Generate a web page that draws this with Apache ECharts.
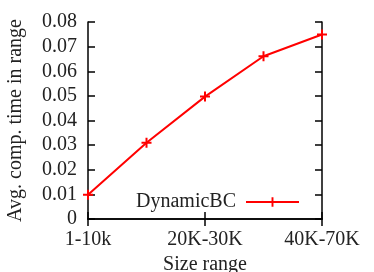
<!DOCTYPE html>
<html><head><meta charset="utf-8">
<script src="https://cdn.jsdelivr.net/npm/echarts@6/dist/echarts.min.js"></script>
<style>html,body{margin:0;padding:0;background:#fff}#c{width:374px;height:272px}</style>
</head><body><div id="c"></div>
<script>
var categories = ['1-10k', '10K-20K', '20K-30K', '30K-40K', '40K-70K'];
var shownLabels = ['1-10k', '20K-30K', '40K-70K'];
var dynamicBC = [0.0098, 0.031, 0.0497, 0.0661, 0.0749];
var seriesName = 'DynamicBC';
var xTitle = 'Size range';
var yTitle = 'Avg. comp. time in range';

var FONT = 'Liberation Serif';
var FS = 20;
var plus = 'path://M4,0 L6,0 L6,4 L10,4 L10,6 L6,6 L6,10 L4,10 L4,6 L0,6 L0,4 L4,4 Z';
var axisLine = {show: true, lineStyle: {color: '#000', width: 1.5}};
var chart = echarts.init(document.getElementById('c'));
chart.setOption({
  animation: false,
  grid: {left: 88, right: 52, top: 22, bottom: 53, containLabel: false, outerBoundsMode: 'none'},
  legend: {
    data: [seriesName],
    right: 74, top: 192, align: 'right', padding: 0,
    itemWidth: 53, itemHeight: 12, itemGap: 10,
    textStyle: {fontFamily: FONT, fontSize: FS, color: '#222', padding: [0, 5, 0, 0]}
  },
  xAxis: [{
    type: 'category', data: categories, boundaryGap: false,
    axisLine: axisLine,
    axisTick: {show: true, inside: true, length: 7, interval: 1, lineStyle: {color: '#000', width: 1.5}},
    axisLabel: {interval: 1, fontFamily: FONT, fontSize: FS, color: '#222', margin: 11,
      formatter: function (v) { return shownLabels.indexOf(v) >= 0 ? v : ''; }},
    name: xTitle, nameLocation: 'middle', nameGap: 27,
    nameTextStyle: {fontFamily: FONT, fontSize: FS, color: '#222'}
  }, {
    type: 'category', data: categories, boundaryGap: false, position: 'top',
    axisLine: axisLine,
    axisTick: {show: true, inside: true, length: 7, interval: 1, lineStyle: {color: '#000', width: 1.5}},
    axisLabel: {show: false}
  }],
  yAxis: [{
    type: 'value', min: 0, max: 0.08, interval: 0.01,
    axisLine: axisLine, splitLine: {show: false},
    axisTick: {show: true, inside: true, length: 7, lineStyle: {color: '#000', width: 1.5}},
    axisLabel: {fontFamily: FONT, fontSize: FS, color: '#222', margin: 11,
      formatter: function (v) { return v === 0 ? '0' : v.toFixed(2); }},
    name: yTitle, nameLocation: 'middle', nameGap: 62, nameRotate: 90,
    nameTextStyle: {fontFamily: FONT, fontSize: FS, color: '#222'}
  }, {
    type: 'value', min: 0, max: 0.08, interval: 0.01, position: 'right',
    axisLine: axisLine, splitLine: {show: false},
    axisTick: {show: true, inside: true, length: 7, lineStyle: {color: '#000', width: 1.5}},
    axisLabel: {show: false}
  }],
  series: [{
    name: seriesName, type: 'line', data: dynamicBC,
    symbol: plus, symbolSize: 10, showSymbol: true,
    lineStyle: {color: '#ff0000', width: 2},
    itemStyle: {color: '#ff0000'}
  }]
});
</script></body></html>
